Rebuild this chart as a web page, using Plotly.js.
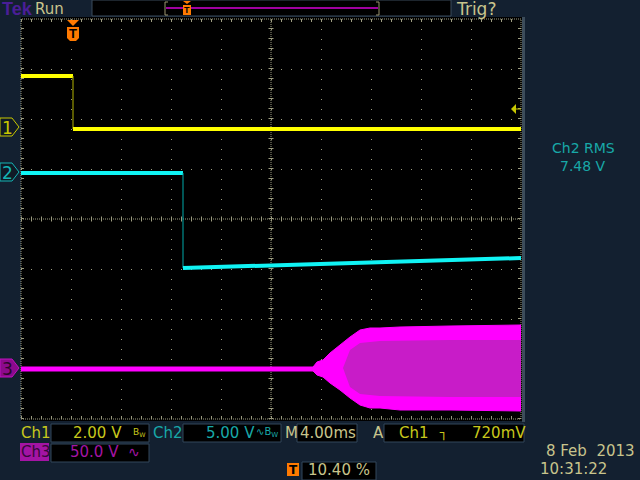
<!DOCTYPE html>
<html><head><meta charset="utf-8">
<script src="https://cdn.plot.ly/plotly-3.0.1.min.js"></script>
<style>html,body{margin:0;padding:0;background:#132030;}#chart{width:640px;height:480px;}</style>
</head><body><div id="chart"></div>
<script>
// ---- Data (time in ms, trigger at t = 0) ----
const timeRange = [-4.16, 35.84];            // 4.00 ms/div, trigger position 10.40 %
const ch1Time  = [-4.16, 0, 0, 35.84];
const ch1Volts = [2.04, 2.04, -0.08, -0.08];
const ch2Time  = [-4.16, 8.8, 8.8, 20.0, 35.84];
const ch2Volts = [-0.1, -0.1, -9.6, -9.2, -8.6];
const ch3FlatTime  = [-4.16, 19.3];
const ch3FlatVolts = [-1, -1];
const ch3EnvTime = [19.2, 19.52, 20.0, 20.56, 21.36, 22.16, 22.96, 23.76, 24.56, 26.16, 30.16, 35.84];
const ch3EnvTop  = [1, 6, 8, 15, 23, 31, 38, 40, 40, 41, 42, 43];
const ch3EnvBot  = [-3, -7, -9, -15, -22, -30, -37, -40, -40, -42, -42, -43];
const ch3CoreTime = [21.6, 22.16, 22.96, 24.56, 30.16, 35.84];
const ch3CoreTop  = [0, 18, 25, 27, 28, 28];
const ch3CoreBot  = [0, -19, -26, -28, -29, -29];
const trigLevel = 0.72;                     // V on Ch1

// channel scales: volts/div and ground position (divisions above centre)
const ch1Scale = 2,  ch1Offset = 1.84;
const ch2Scale = 5,  ch2Offset = 0.94;
const ch3Scale = 50, ch3Offset = -2.98;
const rng = (s, o) => [(-4 - o) * s, (4 - o) * s];

// ---- geometry helpers (pixel -> paper) ----
const L = 21, T = 19, W = 500, H = 400;
const PX = x => (x - L) / W, PY = y => (T + H - y) / H;
const GRID = '#9c9c80', KHAKI = '#c8c48c', YEL = '#c8c81c', CYAN = '#18a8a8', MAG = '#a414a4';
const FONT = 'DejaVu Sans';

function rect(x0, y0, x1, y1, fill, line, lw, layer) {
  return {type: 'rect', xref: 'paper', yref: 'paper', x0: PX(x0), x1: PX(x1), y0: PY(y1), y1: PY(y0),
          fillcolor: fill, line: {color: line || fill, width: lw || 0}, layer: layer || 'above'};
}
function pline(x0, y0, x1, y1, color, w, dash, layer) {
  return {type: 'line', xref: 'paper', yref: 'paper', x0: PX(x0), x1: PX(x1), y0: PY(y0), y1: PY(y1),
          line: {color: color, width: w || 1, dash: dash || 'solid'}, layer: layer || 'above'};
}
function path(pts, fill, edge) {
  const p = pts.map(q => PX(q[0]) + ',' + PY(q[1]));
  return {type: 'path', xref: 'paper', yref: 'paper', path: 'M' + p.join('L') + 'Z', fillcolor: fill,
          line: {color: edge || fill, width: edge ? 1 : 0}, layer: 'above'};
}
function txt(x, y, s, color, size, xa, extra) {
  return Object.assign({xref: 'paper', yref: 'paper', x: PX(x), y: PY(y), text: s, showarrow: false,
          xanchor: xa || 'left', yanchor: 'middle', font: {family: FONT, size: size || 15, color: color}}, extra || {});
}
const gpx = off => 219 - off * 50;   // ground pixel of a channel

// ---- traces ----
const traces = [
  {x: ch3EnvTime, y: ch3EnvTop, yaxis: 'y3', mode: 'lines', line: {color: '#ff00ff', width: 1}},
  {x: ch3EnvTime, y: ch3EnvBot, yaxis: 'y3', mode: 'lines', line: {color: '#ff00ff', width: 1}, fill: 'tonexty', fillcolor: '#ff00ff'},
  {x: ch3CoreTime, y: ch3CoreTop, yaxis: 'y3', mode: 'lines', line: {color: '#c81cc8', width: 0}},
  {x: ch3CoreTime, y: ch3CoreBot, yaxis: 'y3', mode: 'lines', line: {color: '#c81cc8', width: 0}, fill: 'tonexty', fillcolor: '#c81cc8'},
  {x: ch3FlatTime, y: ch3FlatVolts, yaxis: 'y3', mode: 'lines', line: {color: '#ff00ff', width: 5}},
  {x: ch2Time.slice(0, 2), y: ch2Volts.slice(0, 2), yaxis: 'y2', mode: 'lines', line: {color: '#10f4f4', width: 4}},
  {x: ch2Time.slice(1, 3), y: ch2Volts.slice(1, 3), yaxis: 'y2', mode: 'lines', line: {color: '#00aaaa', width: 1}},
  {x: ch2Time.slice(2), y: ch2Volts.slice(2), yaxis: 'y2', mode: 'lines', line: {color: '#10f4f4', width: 4}},
  {x: ch1Time.slice(0, 2), y: ch1Volts.slice(0, 2), yaxis: 'y', mode: 'lines', line: {color: '#ffff00', width: 4}},
  {x: ch1Time.slice(1, 3), y: ch1Volts.slice(1, 3), yaxis: 'y', mode: 'lines', line: {color: '#b4b400', width: 1}},
  {x: ch1Time.slice(2), y: ch1Volts.slice(2), yaxis: 'y', mode: 'lines', line: {color: '#ffff00', width: 4}}
].map(t => Object.assign({type: 'scatter', showlegend: false, hoverinfo: 'skip'}, t));

const baseAx = {showticklabels: false, zeroline: false, showline: false, fixedrange: true, ticks: ''};
const ch1Range = rng(ch1Scale, ch1Offset);

const layout = {
  width: 640, height: 480,
  margin: {l: L, r: 640 - L - W, t: T, b: 480 - T - H, pad: 0},
  paper_bgcolor: '#132030', plot_bgcolor: 'rgba(0,0,0,0)',
  showlegend: false,
  xaxis: Object.assign({}, baseAx, {range: timeRange, tick0: timeRange[0], dtick: 4, showgrid: true,
    gridcolor: GRID, griddash: '1px,9px', gridwidth: 1}),
  yaxis: Object.assign({}, baseAx, {range: ch1Range, tick0: ch1Range[0], dtick: ch1Scale,
    showgrid: true, gridcolor: GRID, griddash: '1px,9px', gridwidth: 1}),
  yaxis2: Object.assign({}, baseAx, {overlaying: 'y', anchor: 'x', visible: false, range: rng(ch2Scale, ch2Offset)}),
  yaxis3: Object.assign({}, baseAx, {overlaying: 'y', anchor: 'x', visible: false, range: rng(ch3Scale, ch3Offset)}),
  shapes: [],
  annotations: []
};

const S = layout.shapes, A = layout.annotations;
// black screen area (below grid)
S.push(rect(21, 17, 522, 421, '#000000', null, 0, 'below'));
// graticule: frame (dense dots), frame ticks, centre cross with ticks
S.push({type: 'rect', xref: 'paper', yref: 'paper', x0: 0, x1: 1, y0: 0, y1: 1, line: {color: GRID, width: 1, dash: '1px,1px'}, layer: 'between'});
S.push(pline(21, 20.5, 521, 20.5, GRID, 3, '1px,9px', 'between'));
S.push(pline(21, 417.5, 521, 417.5, GRID, 3, '1px,9px', 'between'));
S.push(pline(22.5, 419, 22.5, 19, GRID, 3, '1px,9px', 'between'));
S.push(pline(519.5, 419, 519.5, 19, GRID, 3, '1px,9px', 'between'));
S.push(pline(271, 419, 271, 19, GRID, 1, '1px,1px', 'between'));
S.push(pline(21, 219, 521, 219, GRID, 1, '1px,1px', 'between'));
S.push(pline(271, 419, 271, 19, GRID, 5, '1px,9px', 'between'));
S.push(pline(21, 219, 521, 219, GRID, 5, '1px,9px', 'between'));
// right frame bar
S.push(rect(522, 17, 525, 422, '#3c4c5a'));

// header
S.push(rect(92, 0, 451, 16, '#000000', '#3a4a5a', 1));
S.push(pline(166, 8, 378, 8, '#a000a0', 2));
S.push(pline(165, 2, 165, 15, '#9a9470', 1));
S.push(pline(165, 2, 168, 2, '#9a9470', 1));
S.push(pline(165, 15, 168, 15, '#9a9470', 1));
S.push(pline(379, 2, 379, 15, '#9a9470', 1));
S.push(pline(376, 2, 379, 2, '#9a9470', 1));
S.push(pline(376, 15, 379, 15, '#9a9470', 1));
A.push(txt(1, 9, '<b>Tek</b>', '#4a1e96', 18, 'left', {font: {family: 'Liberation Sans', size: 18, color: '#4a1e96'}, borderpad: 0}));
A.push(txt(34, 9, 'Run', KHAKI, 15, 'left', {borderpad: 0}));
A.push(txt(455, 9, 'Trig?', KHAKI, 17, 'left', {borderpad: 0}));
// header record trigger marker
S.push(path([[183, 1], [191, 1], [187, 4]], '#ff7a00'));
S.push(rect(183, 5, 191, 15, '#ff7a00'));
A.push(txt(187, 10, '<b>T</b>', '#000000', 9, 'center', {font: {family: 'Liberation Sans', size: 9, color: '#000000'}, borderpad: 0}));

// trigger position marker on graticule
const trigPx = 21 + (0 - timeRange[0]) / (timeRange[1] - timeRange[0]) * 500;
S.push(path([[trigPx - 6, 20], [trigPx + 6, 20], [trigPx, 26]], '#ff7a00'));
S.push(path([[trigPx - 6, 27], [trigPx + 6, 27], [trigPx + 6, 38], [trigPx + 3, 41], [trigPx - 3, 41], [trigPx - 6, 38]], '#ff7a00'));
A.push(txt(trigPx, 34, '<b>T</b>', '#000000', 13, 'center', {font: {family: 'Liberation Sans', size: 13, color: '#000000'}}));

// trigger level arrow on right edge
const tlY = 219 - (trigLevel / ch1Scale + ch1Offset) * 50;
S.push(path([[511, tlY], [516, tlY - 5], [516, tlY + 5]], '#c8c800'));
S.push(pline(516, tlY, 521, tlY, '#c8c800', 1));

// channel ground markers
function marker(off, label, edge, fill, tcol) {
  const g = gpx(off);
  S.push(path([[0, g - 9], [12, g - 9], [19, g], [12, g + 9], [0, g + 9]], fill, edge));
  A.push(txt(7, g + 1, label, tcol, 17, 'center'));
}
marker(ch1Offset, '1', '#c8c800', '#101a26', '#c8c800');
marker(ch2Offset, '2', '#14b4b4', '#101a26', '#14b4b4');
marker(ch3Offset, '3', '#c010c0', '#8c0a8c', '#2a062a');

// right readout
A.push(txt(583, 148, 'Ch2 RMS', CYAN, 14, 'center'));
A.push(txt(583, 166, '7.48 V', CYAN, 14, 'center'));

// bottom status bar
const BOX = '#33475a';
S.push(rect(51, 424, 149, 442, '#000000', BOX, 1));
S.push(rect(183, 424, 281, 442, '#000000', BOX, 1));
S.push(rect(297, 424, 357, 442, '#000000', BOX, 1));
S.push(rect(384, 424, 524, 442, '#000000', BOX, 1));
S.push(rect(20, 443, 49, 461, MAG));
S.push(rect(51, 444, 149, 462, '#000000', BOX, 1));
S.push(rect(287, 463, 299, 476, '#ff7a00'));
S.push(rect(302, 462, 376, 480, '#000000', BOX, 1));

A.push(txt(19, 433, 'Ch1', YEL, 15));
A.push(txt(71, 433, '2.00 V', YEL, 15));
A.push(txt(148, 433, 'B<sub>W</sub>', YEL, 9, 'right'));
A.push(txt(151, 433, 'Ch2', CYAN, 15));
A.push(txt(204, 433, '5.00 V', CYAN, 15));
A.push(txt(280, 433, '∿B<sub>W</sub>', CYAN, 10, 'right'));
A.push(txt(283, 433, 'M', KHAKI, 15));
A.push(txt(298, 433, '4.00ms', KHAKI, 15));
A.push(txt(371, 433, 'A', KHAKI, 15));
A.push(txt(397, 433, 'Ch1', YEL, 15));
A.push(txt(437, 433, '┐', YEL, 13));
A.push(txt(470, 433, '720mV', YEL, 15));
A.push(txt(19, 452, 'Ch3', '#36083a', 15));
A.push(txt(68, 452, '50.0 V', MAG, 15));
A.push(txt(126, 452, '∿', MAG, 14));
A.push(txt(293, 470, '<b>T</b>', '#000000', 12, 'center'));
A.push(txt(306, 470, '10.40 %', KHAKI, 15));
A.push(txt(637, 451, '8 Feb\u00a0\u00a02013', KHAKI, 15, 'right'));
A.push(txt(538, 469, '10:31:22', KHAKI, 15));

Plotly.newPlot('chart', traces, layout, {displayModeBar: false, staticPlot: true});
</script>
</body></html>
